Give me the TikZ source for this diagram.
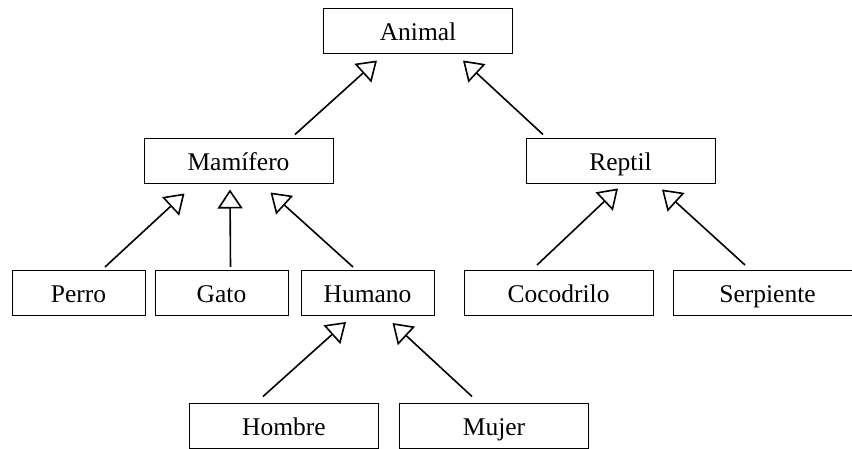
\documentclass[tikz,border=0pt]{standalone}
\usepackage{fontspec}
\setmainfont{Liberation Serif}
\usepackage{tikz}
\usetikzlibrary{arrows.meta,positioning}
\tikzset{
  classbox/.style={rectangle,draw=black,line width=1pt,minimum width=189pt,minimum height=45pt,
    text height=19pt,text depth=0pt,font=\fontsize{25.5}{29}\selectfont},
  smallbox/.style={classbox,minimum width=133pt},
  inharr/.style={-{Triangle[open,length=19pt,width=25pt]},line width=1.6pt,color=black}
}
\begin{document}
\begin{tikzpicture}[x=1pt,y=-1pt]
  \useasboundingbox (0,0) rectangle (852,449);
  \clip (0,0) rectangle (852,449);

  % top level
  \node[classbox] (animal) at (418,31.5) {Animal};

  % second level
  \node[classbox] (mam) at (238.5,161.5) {Mamífero};
  \node[classbox] (rep) at (620.5,161.5) {Reptil};

  % third level
  \node[smallbox] (perro) at (78.5,293) {Perro};
  \node[smallbox,right=9pt of perro] (gato) {Gato};
  \node[smallbox,right=12pt of gato] (hum) {Humano};
  \node[classbox] (coco) at (558.5,293) {Cocodrilo};
  \node[classbox,right=19pt of coco] (serp) {Serpiente};

  % fourth level
  \node[classbox] (hombre) at (284,425.5) {Hombre};
  \node[classbox,right=20pt of hombre] (mujer) {Mujer};

  % inheritance arrows
  \draw[inharr] ([xshift=56.5pt,yshift=4pt]mam.north) -- ([xshift=-41pt,yshift=-6pt]animal.south);
  \draw[inharr] ([xshift=-77.5pt,yshift=4pt]rep.north) -- ([xshift=45pt,yshift=-6pt]animal.south);

  \draw[inharr] ([xshift=26.5pt,yshift=3pt]perro.north) -- ([xshift=-54pt,yshift=-9pt]mam.south);
  \draw[inharr] ([xshift=9pt,yshift=3pt]gato.north) -- ([xshift=-8.5pt,yshift=-5pt]mam.south);
  \draw[inharr] ([xshift=-14.5pt,yshift=3pt]hum.north) -- ([xshift=32pt,yshift=-8pt]mam.south);

  \draw[inharr] ([xshift=-21.5pt,yshift=5pt]coco.north) -- ([xshift=-2.5pt,yshift=-4pt]rep.south);
  \draw[inharr] ([xshift=-22.5pt,yshift=5pt]serp.north) -- ([xshift=41.5pt,yshift=-5pt]rep.south);

  \draw[inharr] ([xshift=-21pt,yshift=6pt]hombre.north) -- ([xshift=-21.5pt,yshift=-6pt]hum.south);
  \draw[inharr] ([xshift=-22pt,yshift=6pt]mujer.north) -- ([xshift=25pt,yshift=-7pt]hum.south);
\end{tikzpicture}
\end{document}
